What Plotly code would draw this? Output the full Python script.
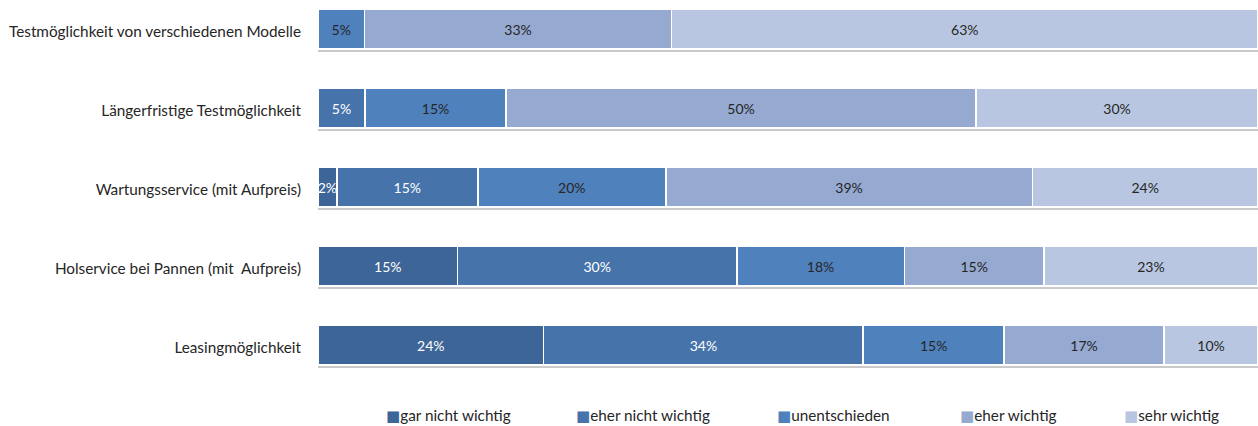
import plotly.graph_objects as go

# Survey items, top to bottom
categories = [
    "Testmöglichkeit von verschiedenen Modelle",
    "Längerfristige Testmöglichkeit",
    "Wartungsservice (mit Aufpreis)",
    "Holservice bei Pannen (mit  Aufpreis)",
    "Leasingmöglichkeit",
]

# Answer levels and their values (percent) per item
levels = ["gar nicht wichtig", "eher nicht wichtig", "unentschieden", "eher wichtig", "sehr wichtig"]
gar_nicht_wichtig = [None, None, 2, 15, 24]
eher_nicht_wichtig = [None, 5, 15, 30, 34]
unentschieden = [5, 15, 20, 18, 15]
eher_wichtig = [33, 50, 39, 15, 17]
sehr_wichtig = [63, 30, 24, 23, 10]
series = [gar_nicht_wichtig, eher_nicht_wichtig, unentschieden, eher_wichtig, sehr_wichtig]

colors = ["#3D6597", "#4673AA", "#4F81BD", "#95A9D1", "#B9C6E1"]
text_colors = ["#FFFFFF", "#FFFFFF", "#262626", "#262626", "#262626"]
full_row = [100, 100, 100, 100, 100]

FONT = "Lato, Calibri, sans-serif"
LABEL_SIZE = 15.3

fig = go.Figure()

# soft drop shadow under each bar (drawn on the base axis, behind the bars)
fig.add_trace(go.Bar(
    y=categories, x=full_row, orientation="h",
    marker=dict(color="#C9C9C9", line=dict(width=0)),
    width=0.5, showlegend=False, hoverinfo="skip",
    xaxis="x", yaxis="y",
))

for i, (name, vals) in enumerate(zip(levels, series)):
    fig.add_trace(go.Bar(
        y=categories, x=vals, orientation="h", name=name,
        marker=dict(color=colors[i], line=dict(color="#FFFFFF", width=1.5)),
        text=[f"{v}%" if v else "" for v in vals],
        textposition="inside", insidetextanchor="middle", textangle=0,
        textfont=dict(color=text_colors[i], size=14, family=FONT),
        width=0.5, showlegend=False, xaxis="x", yaxis="y2",
        hovertemplate="%{y}: %{text}<extra>" + name + "</extra>",
    ))

# legend row: coloured square followed by the level name
legend_x = [0.0702, 0.2723, 0.4861, 0.6808, 0.8553]
for i, name in enumerate(levels):
    fig.add_annotation(
        xref="paper", yref="paper", x=legend_x[i], y=-0.081,
        xanchor="left", yanchor="middle", showarrow=False,
        text=f"<span style='color:{colors[i]};font-size:15px;font-family:DejaVu Sans'>■</span>{name}",
        font=dict(size=LABEL_SIZE, color="#262626", family=FONT),
    )

px_unit = 79.0
top_range = -29 / px_unit
bot_range = 4 + 39 / px_unit
shift = 3 / px_unit

fig.update_layout(
    width=1258, height=426,
    margin=dict(l=318, r=0, t=0, b=42),
    paper_bgcolor="white", plot_bgcolor="white",
    barmode="stack", barnorm="percent",
    uniformtext=dict(minsize=14, mode="show"),
    showlegend=False,
    xaxis=dict(range=[0, 100], visible=False, fixedrange=True),
    yaxis=dict(
        categoryorder="array", categoryarray=categories,
        range=[bot_range - shift, top_range - shift],
        showgrid=False, zeroline=False, showline=False,
        ticks="", ticklabelstandoff=16,
        tickfont=dict(size=LABEL_SIZE, color="#262626", family=FONT),
    ),
    yaxis2=dict(
        overlaying="y", categoryorder="array", categoryarray=categories,
        range=[bot_range, top_range], showticklabels=False,
        showgrid=False, zeroline=False, showline=False, ticks="",
    ),
)

fig.write_html("out.html")
